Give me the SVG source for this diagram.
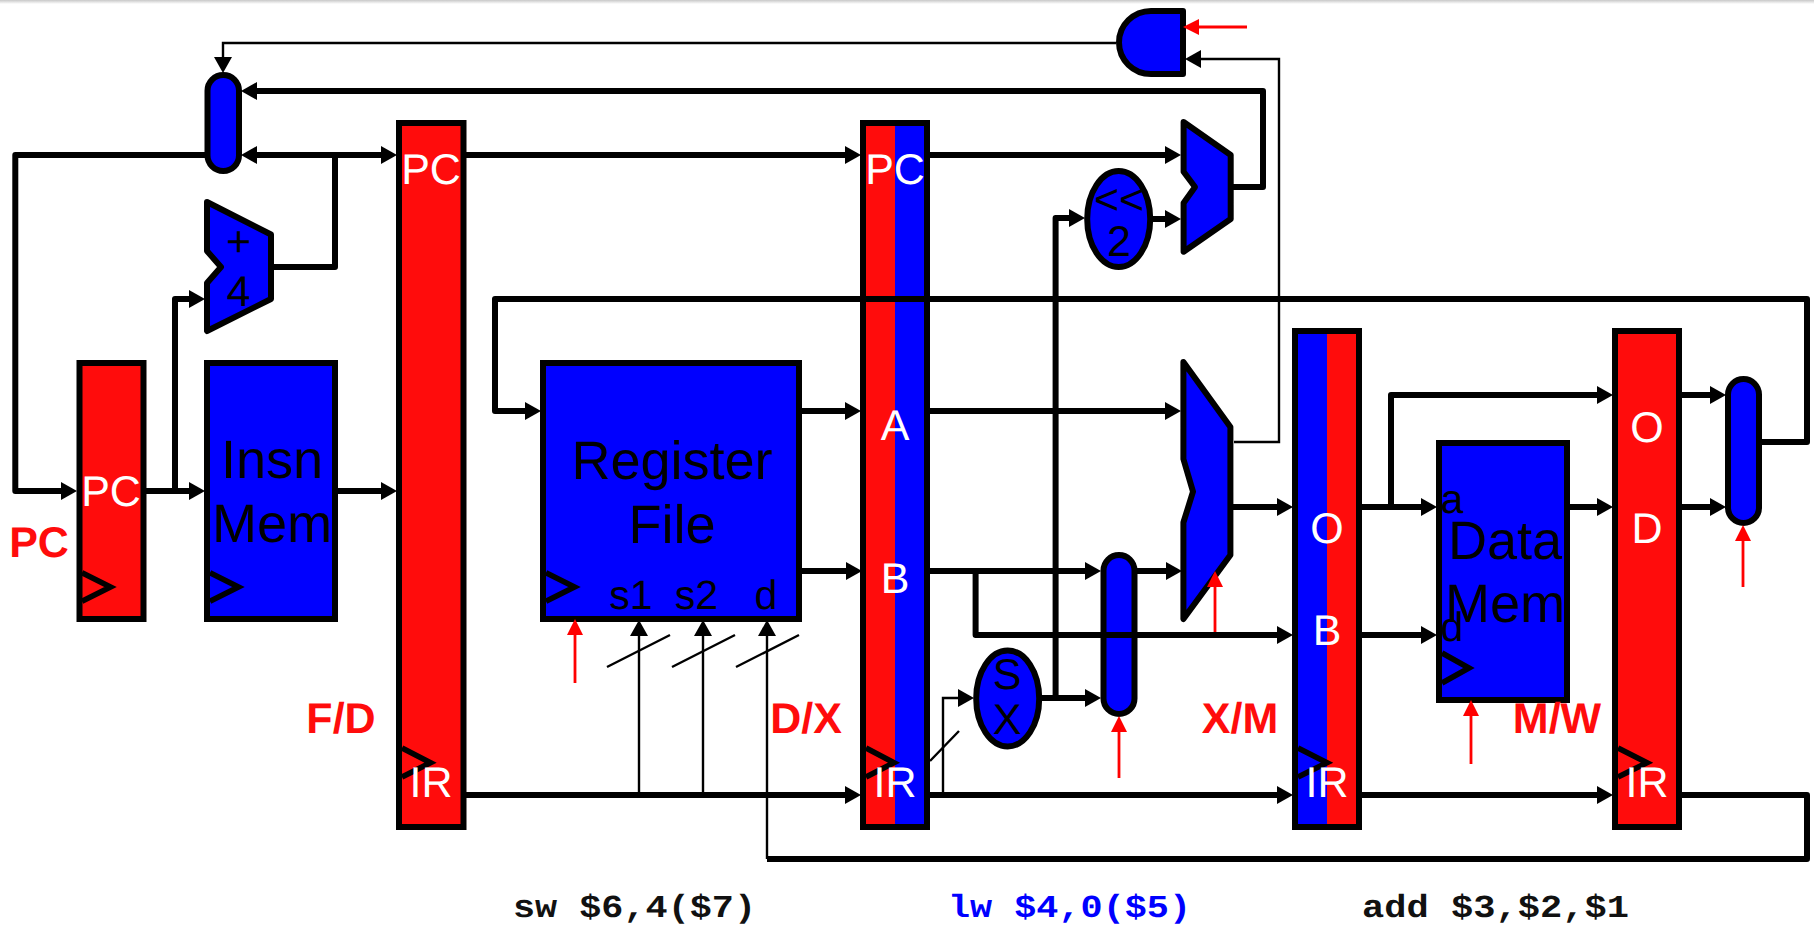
<svg xmlns="http://www.w3.org/2000/svg" width="1814" height="926" viewBox="0 0 1814 926">
<style>
.n{stroke:#000;stroke-width:6;stroke-linejoin:round}
.r{fill:#ff0c0c}.b{fill:#00f}
.mit{stroke-linejoin:miter}
.ck{fill:none;stroke:#000;stroke-width:5.6;stroke-linejoin:miter}
text{font-family:"Liberation Sans",Arial,sans-serif;text-anchor:middle;text-rendering:geometricPrecision}
.w{fill:#fff;font-size:43px}
.k{fill:#000;font-size:43px}
.s{fill:#000;font-size:41px}
.big{fill:#000;font-size:54px}
.lab{fill:#ff0c0c;font-size:43px;font-weight:bold}
.code{font-family:"Liberation Mono","Courier New",monospace;font-size:32px;font-weight:bold;text-anchor:start}
.t{fill:none;stroke:#000;stroke-width:6;stroke-linejoin:round;marker-end:url(#a)}
.p{fill:none;stroke:#000;stroke-width:6;stroke-linejoin:round}
.h{fill:none;stroke:#000;stroke-width:2.4;stroke-linejoin:miter}
.ha{marker-end:url(#a)}
.ra{fill:none;stroke:#f00;stroke-width:2.8;marker-end:url(#ar)}
</style>
<defs>
<marker id="a" markerUnits="userSpaceOnUse" viewBox="0 0 16 18" refX="0" refY="9" markerWidth="16" markerHeight="18" orient="auto"><path d="M0,0L16,9L0,18Z" fill="#000"/></marker>
<marker id="ar" markerUnits="userSpaceOnUse" viewBox="0 0 16 16" refX="0" refY="8" markerWidth="16" markerHeight="16" orient="auto"><path d="M0,0L16,8L0,16Z" fill="#f00"/></marker>
<linearGradient id="top" x1="0" y1="0" x2="0" y2="1"><stop offset="0" stop-color="#c8c8c8"/><stop offset="1" stop-color="#fff"/></linearGradient>
</defs>
<rect width="1814" height="926" fill="#fff"/>
<rect width="1814" height="4" fill="url(#top)"/>

<g id="pc-reg"><rect class="n r mit" x="79.5" y="363" width="64" height="256"/><polyline class="ck" points="82,572.7 110.5,587 82,601.3"/><text class="w" x="111" y="506">PC</text></g>
<g id="insn-mem"><rect class="n b mit" x="207" y="363" width="128" height="256"/><polyline class="ck" points="210,572.7 238.5,587 210,601.3"/><text class="big" x="272" y="478">Insn</text><text class="big" x="272" y="542">Mem</text></g>
<g id="pc-mux"><rect class="n b" x="207.5" y="75" width="31.5" height="96" rx="15.7"/></g>
<g id="adder-4"><polygon class="n b" points="207,202 271,234.5 271,299 207,331 207,283 221,267 207,251"/><text class="k" x="238.5" y="256">+</text><text class="k" x="238.5" y="306">4</text></g>
<g id="fd-reg"><rect class="n r mit" x="399" y="123" width="64.5" height="704"/><polyline class="ck" points="402,748 430.5,762.7 402,777"/><text class="w" x="431" y="184">PC</text><text class="w" x="431" y="797">IR</text></g>
<g id="reg-file"><rect class="n b mit" x="543" y="363" width="256" height="256"/><polyline class="ck" points="546,572.7 574.5,587 546,601.3"/><text class="big" x="672" y="479">Register</text><text class="big" x="672" y="543">File</text><text class="s" x="631" y="609">s1</text><text class="s" x="696.5" y="609">s2</text><text class="s" x="766" y="609">d</text></g>
<g id="dx-reg"><rect class="r" x="863" y="123" width="32" height="704"/><rect class="b" x="895" y="123" width="32" height="704"/><rect class="n mit" fill="none" x="863" y="123" width="64" height="704"/><polyline class="ck" points="866,748 894,762.7 866,777"/><text class="w" x="895" y="184">PC</text><text class="w" x="895" y="440">A</text><text class="w" x="895" y="593">B</text><text class="w" x="895" y="797">IR</text></g>
<g id="and-gate"><path class="n b" d="M1183,11V74H1151A32,31.5 0 0 1 1151,11Z"/></g>
<g id="shift-2"><ellipse class="n b" cx="1118.7" cy="219" rx="31.5" ry="48"/><text class="k" x="1119" y="214">&lt;&lt;</text><text class="k" x="1119" y="256">2</text></g>
<g id="branch-adder"><polygon class="n b" points="1183.6,122 1230.7,155 1230.7,219 1183.6,251.7 1183.6,203 1195,187 1183.6,171.7"/></g>
<g id="alu"><polygon class="n b" points="1183.4,362 1230.4,427 1230.4,555 1183.4,619 1183.4,522.5 1193,491.7 1183.4,459"/></g>
<g id="bypass-mux"><rect class="n b" x="1103.5" y="555" width="31" height="159" rx="15.5"/></g>
<g id="sx"><ellipse class="n b" cx="1007.7" cy="698.5" rx="31.5" ry="48"/><text class="k" x="1007" y="689">S</text><text class="k" x="1007" y="734">X</text></g>
<g id="xm-reg"><rect class="b" x="1295" y="331" width="32" height="496"/><rect class="r" x="1327" y="331" width="32" height="496"/><rect class="n mit" fill="none" x="1295" y="331" width="64" height="496"/><polyline class="ck" points="1298,748 1327,762.7 1298,777"/><text class="w" x="1327" y="543">O</text><text class="w" x="1327" y="645">B</text><text class="w" x="1327" y="797">IR</text></g>
<g id="data-mem"><rect class="n b mit" x="1439" y="443" width="128" height="257"/><polyline class="ck" points="1442,653 1469,668 1442,683"/><text class="big" x="1505" y="559">Data</text><text class="big" x="1505" y="622">Mem</text><text class="s" x="1452" y="513">a</text><text class="s" x="1452" y="641">d</text></g>
<g id="mw-reg"><rect class="n r mit" x="1615" y="331" width="64" height="496"/><polyline class="ck" points="1618,748 1647,762.7 1618,777"/><text class="w" x="1647" y="442">O</text><text class="w" x="1647" y="543">D</text><text class="w" x="1647" y="797">IR</text></g>
<g id="wb-mux"><rect class="n b" x="1728" y="379" width="31" height="144" rx="15.5"/></g>

<g id="connectors">
<path class="t" d="M205,155H15.3V491H61"/>
<path class="p" d="M271,267H335V155"/>
<path class="t" d="M335,155H257"/>
<path class="t" d="M335,155H381"/>
<path class="t" d="M146,491H189"/>
<path class="t" d="M175,491V299H189"/>
<path class="t" d="M338,491H381"/>
<path class="t" d="M466,155H845"/>
<path class="t" d="M930,155H1165"/>
<path class="t" d="M1233,187H1263V91H257"/>
<path class="t" d="M1153,219H1165"/>
<path class="t" d="M1055.6,698V218H1069"/>
<path class="t" d="M1042,698H1085"/>
<path class="t" d="M802,411H845"/>
<path class="t" d="M802,571H846"/>
<path class="t" d="M930,411H1165"/>
<path class="t" d="M930,571H1085"/>
<path class="t" d="M1137,571H1166"/>
<path class="t" d="M975.6,571V635H1277"/>
<path class="t" d="M1233,507H1277"/>
<path class="t" d="M1362,507H1421"/>
<path class="t" d="M1391,507V395H1597"/>
<path class="t" d="M1362,635H1421"/>
<path class="t" d="M1570,507H1597"/>
<path class="t" d="M1682,395H1710"/>
<path class="t" d="M1682,507H1710"/>
<path class="t" d="M1762,442H1807V299H495V411H525"/>
<path class="t" d="M466,795H845"/>
<path class="t" d="M930,795H1277"/>
<path class="t" d="M1362,795H1597"/>
<path class="p" d="M1682,795H1807V859H767"/>
<path class="h ha" d="M767,859V636"/>
<path class="h ha" d="M639,795V636"/>
<path class="h ha" d="M703,795V636"/>
<path class="h ha" d="M943,795V698H958"/>
<path class="h ha" d="M1116,43H223V57"/>
<path class="h ha" d="M1234,442H1279V59H1201"/>
<path class="h" d="M607,667L670,635M672,667L735,635M736,667L799,635M959,731L930,761"/>
<path class="ra" d="M1247,27H1199"/>
<path class="ra" d="M575,683V635"/>
<path class="ra" d="M1119,778V732"/>
<path class="ra" d="M1215,632V587"/>
<path class="ra" d="M1471,764V716"/>
<path class="ra" d="M1743,587V541"/>
</g>

<g id="labels">
<text class="lab" x="39" y="557">PC</text>
<text class="lab" x="341" y="733">F/D</text>
<text class="lab" x="806" y="733">D/X</text>
<text class="lab" x="1240" y="733">X/M</text>
<text class="lab" x="1557" y="733">M/W</text>
<text class="code" x="513" y="917" textLength="243" lengthAdjust="spacingAndGlyphs" fill="#111">sw $6,4($7)</text>
<text class="code" x="948" y="917" textLength="243" lengthAdjust="spacingAndGlyphs" fill="#00f">lw $4,0($5)</text>
<text class="code" x="1362" y="917" textLength="267" lengthAdjust="spacingAndGlyphs" fill="#111">add $3,$2,$1</text>
</g>
</svg>
